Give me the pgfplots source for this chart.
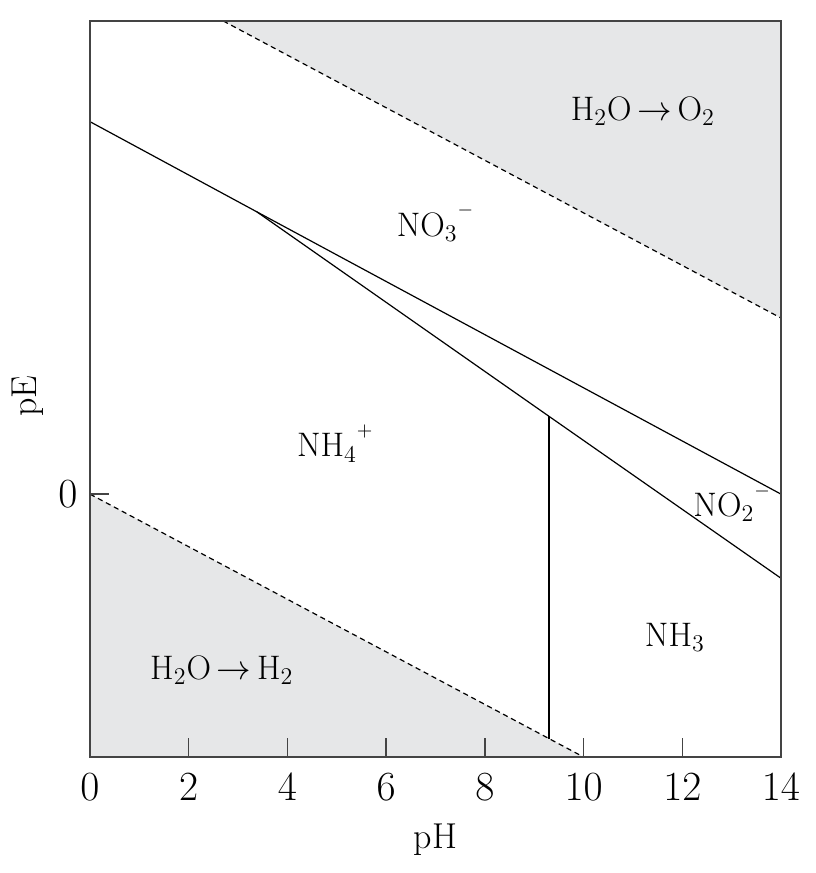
\documentclass[border=0pt]{standalone}
\usepackage{pgfplots}
\pgfplotsset{compat=1.18}
\definecolor{shade}{HTML}{E6E7E8}
\definecolor{axgray}{HTML}{444444}
\newcommand{\ionsup}[1]{\raisebox{0.6em}{\fontsize{10}{10}\selectfont #1}}
\begin{document}
\begin{tikzpicture}
\begin{axis}[
  scale only axis,
  width=345.5pt, height=368pt,
  xmin=0, xmax=14, ymin=-10, ymax=18,
  axis on top,
  axis line style={axgray, line width=0.7pt},
  tick style={axgray, line width=0.7pt},
  tick pos=left,
  tick align=inside,
  major tick length=9.5pt,
  xtick={0,2,4,6,8,10,12,14},
  ytick={0},
  xticklabel style={anchor=center, yshift=-15pt, font=\fontsize{20}{24}\selectfont},
  yticklabel style={anchor=center, xshift=-11pt, font=\fontsize{20}{24}\selectfont},
  xlabel={pH},
  ylabel={pE},
  xlabel style={at={(rel axis cs:0.5,0)}, anchor=center, yshift=-41.5pt, font=\fontsize{18}{22}\selectfont},
  ylabel style={at={(rel axis cs:0,0.49)}, anchor=center, yshift=31pt, font=\fontsize{18}{22}\selectfont},
  clip=true,
]
% shaded regions
\addplot[fill=shade, draw=none] coordinates {(2.7,18) (14,6.7) (14,18)} -- cycle;
\addplot[fill=shade, draw=none] coordinates {(0,0) (10,-10) (0,-10)} -- cycle;
% dashed water lines
\addplot[black, line width=0.6pt, dash pattern=on 2.6pt off 1.9pt] coordinates {(2.7,18) (14,6.7)};
\addplot[black, line width=0.6pt, dash pattern=on 2.6pt off 1.9pt] coordinates {(0,0) (10,-10)};
% NO3- boundary
\addplot[black, line width=0.6pt] coordinates {(0,14.17) (3.38,10.74) (14,0)};
% NO2- / NH4+ and NO2- / NH3
\addplot[black, line width=0.6pt] coordinates {(3.38,10.74) (9.3,2.96) (14,-3.2)};
% NH4+ / NH3
\addplot[black, line width=0.6pt] coordinates {(9.3,2.96) (9.3,-9.3)};
\coordinate (bl) at (rel axis cs:0,0);
\coordinate (tr) at (rel axis cs:1,1);
\begin{scope}[font=\fontsize{17}{20}\selectfont]
\node at (axis cs:11.2,14.58) {H$_2$O$\,\rightarrow\,$O$_2$};
\node at (axis cs:6.99,10.33) {NO$_3$\ionsup{$-$}};
\node at (axis cs:4.96,1.93) {NH$_4$\ionsup{+}};
\node at (axis cs:13.0,-0.35) {NO$_2$\ionsup{$-$}};
\node at (axis cs:11.85,-5.44) {NH$_3$};
\node at (axis cs:2.67,-6.69) {H$_2$O$\,\rightarrow\,$H$_2$};
\end{scope}
\end{axis}
\path (bl) ++(-45pt,-58pt) coordinate (A);
\path (tr) ++(17pt,10.5pt) coordinate (B);
\pgfresetboundingbox
\useasboundingbox (A) rectangle (B);
\end{tikzpicture}
\end{document}
